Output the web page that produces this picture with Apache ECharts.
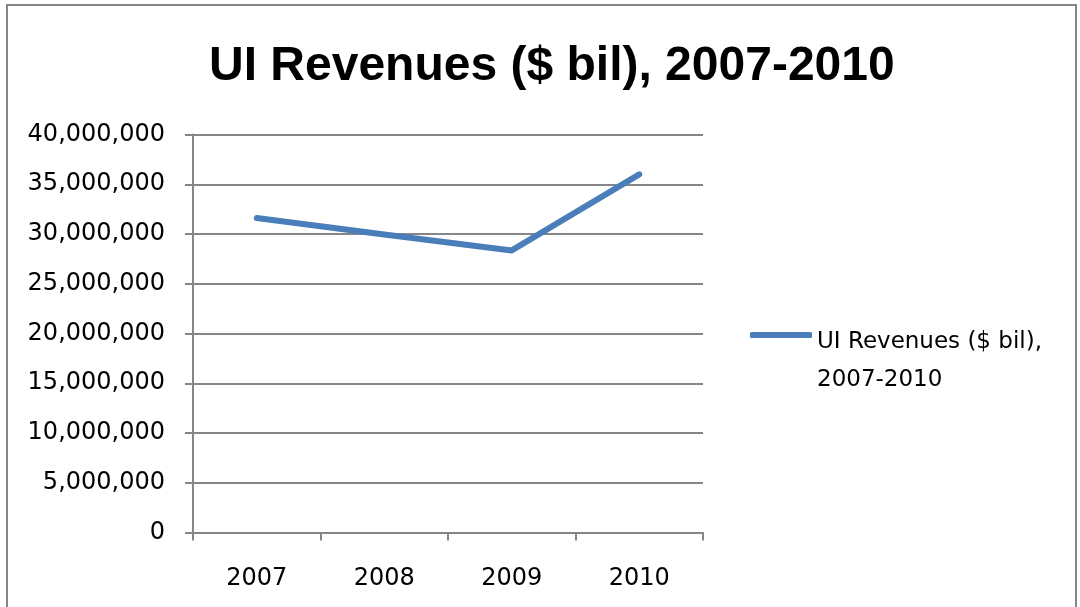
<!DOCTYPE html>
<html>
<head>
<meta charset="utf-8">
<title>UI Revenues ($ bil), 2007-2010</title>
<script src="https://cdn.jsdelivr.net/npm/echarts@6/dist/echarts.min.js"></script>
<style>
  html, body { margin: 0; padding: 0; background: #fff; }
  #chart { width: 1080px; height: 607px; }
</style>
</head>
<body>
<div id="chart"></div>
<script>
// Revenue by year
const years = ['2007', '2008', '2009', '2010'];
const revenues = [31600000, 29950000, 28350000, 36000000];
const seriesName = 'UI Revenues ($ bil), 2007-2010';

const axisGray = '#868686';
const lineBlue = '#4A7EBB';
const labelFont = 'DejaVu Sans';

const chart = echarts.init(document.getElementById('chart'), null, { renderer: 'canvas' });

chart.setOption({
  animation: false,
  backgroundColor: '#ffffff',
  title: {
    text: seriesName,
    left: 204,
    top: 38,
    textStyle: {
      fontFamily: 'Liberation Sans',
      fontWeight: 'bold',
      fontSize: 48,
      color: '#000'
    }
  },
  graphic: [{
    type: 'rect',
    silent: true,
    shape: { x: 7, y: 5, width: 1069, height: 700 },
    style: { fill: 'none', stroke: axisGray, lineWidth: 2 }
  }],
  legend: {
    left: 745,
    top: 266,
    icon: 'roundRect',
    itemWidth: 62,
    itemHeight: 6,
    itemGap: 0,
    itemStyle: { color: lineBlue },
    // a taller blank first row keeps the key just above the first text line
    formatter: () => '{t| }\n{a|UI Revenues ($ bil),}\n{a|2007-2010}',
    textStyle: {
      fontFamily: labelFont,
      fontSize: 23,
      color: '#000',
      rich: {
        t: { height: 52, lineHeight: 52, fontSize: 23 },
        a: { lineHeight: 38, fontSize: 23, fontFamily: labelFont, color: '#000' }
      }
    }
  },
  grid: {
    left: 193,
    right: 377,
    top: 134.5,
    bottom: 74.5
  },
  xAxis: {
    type: 'category',
    data: years,
    boundaryGap: true,
    axisLine: { lineStyle: { color: axisGray, width: 2 } },
    axisTick: { show: true, length: 8, lineStyle: { color: axisGray, width: 2 } },
    axisLabel: {
      margin: 34,
      fontFamily: labelFont,
      fontSize: 24,
      color: '#000'
    },
    splitLine: { show: false }
  },
  yAxis: {
    type: 'value',
    min: 0,
    max: 40000000,
    interval: 5000000,
    axisLine: { show: true, lineStyle: { color: axisGray, width: 2 } },
    axisTick: { show: true, length: 8, lineStyle: { color: axisGray, width: 2 } },
    axisLabel: {
      margin: 28,
      fontFamily: labelFont,
      fontSize: 24,
      color: '#000',
      formatter: v => v.toLocaleString('en-US')
    },
    splitLine: { show: true, lineStyle: { color: axisGray, width: 2 } }
  },
  series: [{
    name: seriesName,
    type: 'line',
    data: revenues,
    symbol: 'none',
    lineStyle: { color: lineBlue, width: 6, cap: 'round', join: 'round' },
    itemStyle: { color: lineBlue }
  }]
});
</script>
</body>
</html>
